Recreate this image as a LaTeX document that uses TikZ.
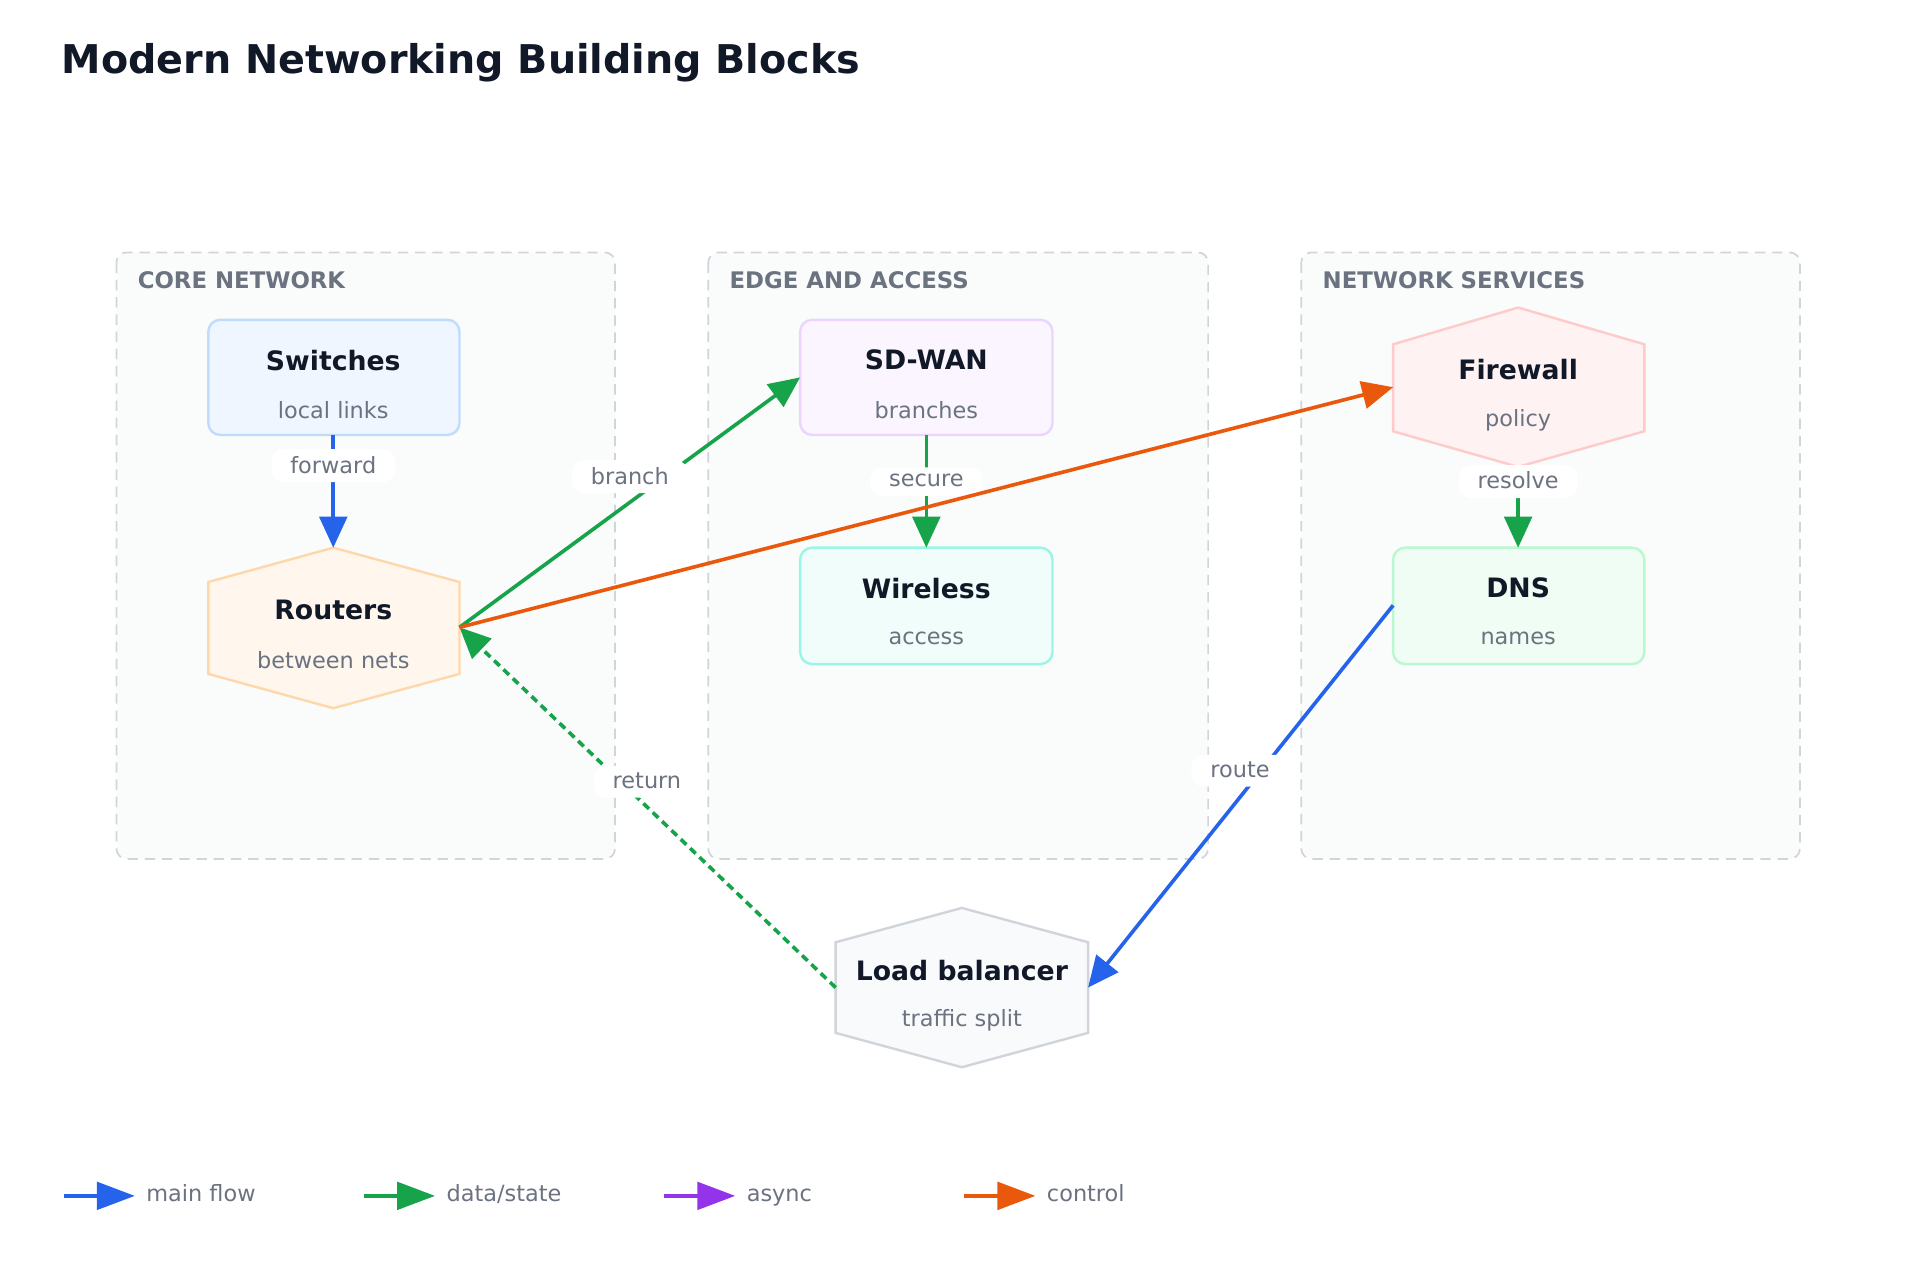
\documentclass[tikz,border=0pt]{standalone}
\usepackage{fontspec}
\setmainfont{DejaVu Sans}
\usetikzlibrary{arrows.meta}
\definecolor{cblue}{HTML}{2563EB}
\definecolor{cgreen}{HTML}{16A34A}
\definecolor{cpurple}{HTML}{9333EA}
\definecolor{corange}{HTML}{EA580C}
\definecolor{ctext}{HTML}{111827}
\definecolor{csub}{HTML}{6B7280}
\definecolor{cgrp}{HTML}{D1D5DB}
\definecolor{cgrpf}{HTML}{FAFBFB}
\definecolor{f1}{HTML}{EFF6FF}\definecolor{d1}{HTML}{BFDBFE}
\definecolor{f2}{HTML}{FFF7ED}\definecolor{d2}{HTML}{FED7AA}
\definecolor{f3}{HTML}{FAF5FF}\definecolor{d3}{HTML}{E9D5FF}
\definecolor{f4}{HTML}{F0FDFA}\definecolor{d4}{HTML}{99F6E4}
\definecolor{f5}{HTML}{FEF2F2}\definecolor{d5}{HTML}{FECACA}
\definecolor{f6}{HTML}{F0FDF4}\definecolor{d6}{HTML}{BBF7D0}
\definecolor{f7}{HTML}{F8FAFC}\definecolor{d7}{HTML}{D1D5DB}
\tikzset{
 grp/.style={draw=cgrp,line width=2pt,dash pattern=on 12pt off 8pt,rounded corners=12pt,fill=cgrpf},
 grplabel/.style={anchor=west,text=csub,font=\fontsize{26.5}{30}\selectfont\bfseries},
 box/.style={line width=2.8pt,rounded corners=14pt},
 hexa/.style={line width=2.8pt},
 ttl/.style={text=ctext,font=\fontsize{31}{36}\selectfont\bfseries},
 sub/.style={text=csub,font=\fontsize{26}{30}\selectfont},
 edge/.style={line width=4.2pt,-{Triangle[length=36pt,width=32pt]}},
 elab/.style={fill=white,rounded corners=14pt,text=csub,font=\fontsize{26}{30}\selectfont,inner xsep=22pt,inner ysep=8pt,text depth=0.25em},
 leg/.style={anchor=west,text=csub,font=\fontsize{26}{30}\selectfont,text height=0.75em,text depth=0.25em}
}
\begin{document}
\begin{tikzpicture}[x=0.05cm,y=-0.05cm]
\useasboundingbox[fill=white] (0,0) rectangle (1567,1045);
\node[anchor=west,text=ctext,font=\fontsize{46}{52}\selectfont\bfseries] (title) at (48,51) {Modern Networking Building Blocks};
% groups
\draw[grp] (95,206) rectangle (502,701);
\draw[grp] (578,206) rectangle (986,701);
\draw[grp] (1062,206) rectangle (1469,701);
\node[grplabel] (g1) at (110,229) {CORE NETWORK};
\node[grplabel] (g2) at (593,229) {EDGE AND ACCESS};
\node[grplabel] (g3) at (1077,229) {NETWORK SERVICES};
% shapes
\draw[box,fill=f1,draw=d1] (170,261) rectangle (375,355);
\draw[hexa,fill=f2,draw=d2] (272,447)--(375,475)--(375,550)--(272,578)--(170,550)--(170,475)--cycle;
\draw[box,fill=f3,draw=d3] (653,261) rectangle (859,355);
\draw[box,fill=f4,draw=d4] (653,447) rectangle (859,542);
\draw[hexa,fill=f5,draw=d5] (1239,251)--(1342,281)--(1342,352)--(1239,381)--(1137,352)--(1137,281)--cycle;
\draw[box,fill=f6,draw=d6] (1137,447) rectangle (1342,542);
\draw[hexa,fill=f7,draw=d7] (785,741)--(888,769)--(888,843)--(785,871)--(682,843)--(682,769)--cycle;
% anchors
\coordinate (swB) at (272,355); \coordinate (roT) at (272,447); \coordinate (roR) at (375,512);
\coordinate (sdL) at (653,308); \coordinate (sdB) at (756,355); \coordinate (wiT) at (756,447);
\coordinate (fwL) at (1137,316); \coordinate (fwB) at (1239,381); \coordinate (dnT) at (1239,447);
\coordinate (dnL) at (1137,494); \coordinate (lbR) at (888,806); \coordinate (lbL) at (682,806);
% edges
\draw[edge,cblue] (swB) -- (roT);
\draw[edge,cgreen] (roR) -- (sdL);
\draw[edge,cgreen] (sdB) -- (wiT);
\draw[edge,cgreen] (fwB) -- (dnT);
\draw[edge,cblue] (dnL) -- (lbR);
\draw[edge,cgreen,dash pattern=on 9pt off 6pt] (lbL) -- (roR);
\node[elab] (l1) at (272,380) {forward};
\node[elab] (l2) at (514,389) {branch};
\node[elab] (l3) at (756,393) {secure};
\node[elab] (l4) at (1239,393) {resolve};
\node[elab] (l5) at (1012,629) {route};
\node[elab] (l6) at (528,638) {return};
\draw[edge,corange] (roR) -- (fwL);
% texts
\node[ttl] (t1) at (272,294) {Switches}; \node[sub] (s1) at (272,335) {local links};
\node[ttl] (t2) at (272,498) {Routers}; \node[sub] (s2) at (272,539) {between nets};
\node[ttl] (t3) at (756,294) {SD-WAN}; \node[sub] (s3) at (756,335) {branches};
\node[ttl] (t4) at (756,480) {Wireless}; \node[sub] (s4) at (756,521) {access};
\node[ttl] (t5) at (1239,302) {Firewall}; \node[sub] (s5) at (1239,343) {policy};
\node[ttl] (t6) at (1239,480) {DNS}; \node[sub] (s6) at (1239,521) {names};
\node[ttl] (t7) at (785,792) {Load balancer}; \node[sub] (s7) at (785,833) {traffic split};
% legend
\foreach \x/\c/\t/\n in {52/cblue/main flow/a,297/cgreen/data\slash state/b,542/cpurple/async/c,787/corange/control/d}{
 \coordinate (p\n) at (\x,976); \coordinate (q\n) at (\x+58,976);
 \draw[line width=4pt,\c,-{Triangle[length=44pt,width=32pt]}] (p\n) -- (q\n);
 \node[leg] (lg\n) at (\x+65,979) {\t};
}
\end{tikzpicture}
\end{document}
